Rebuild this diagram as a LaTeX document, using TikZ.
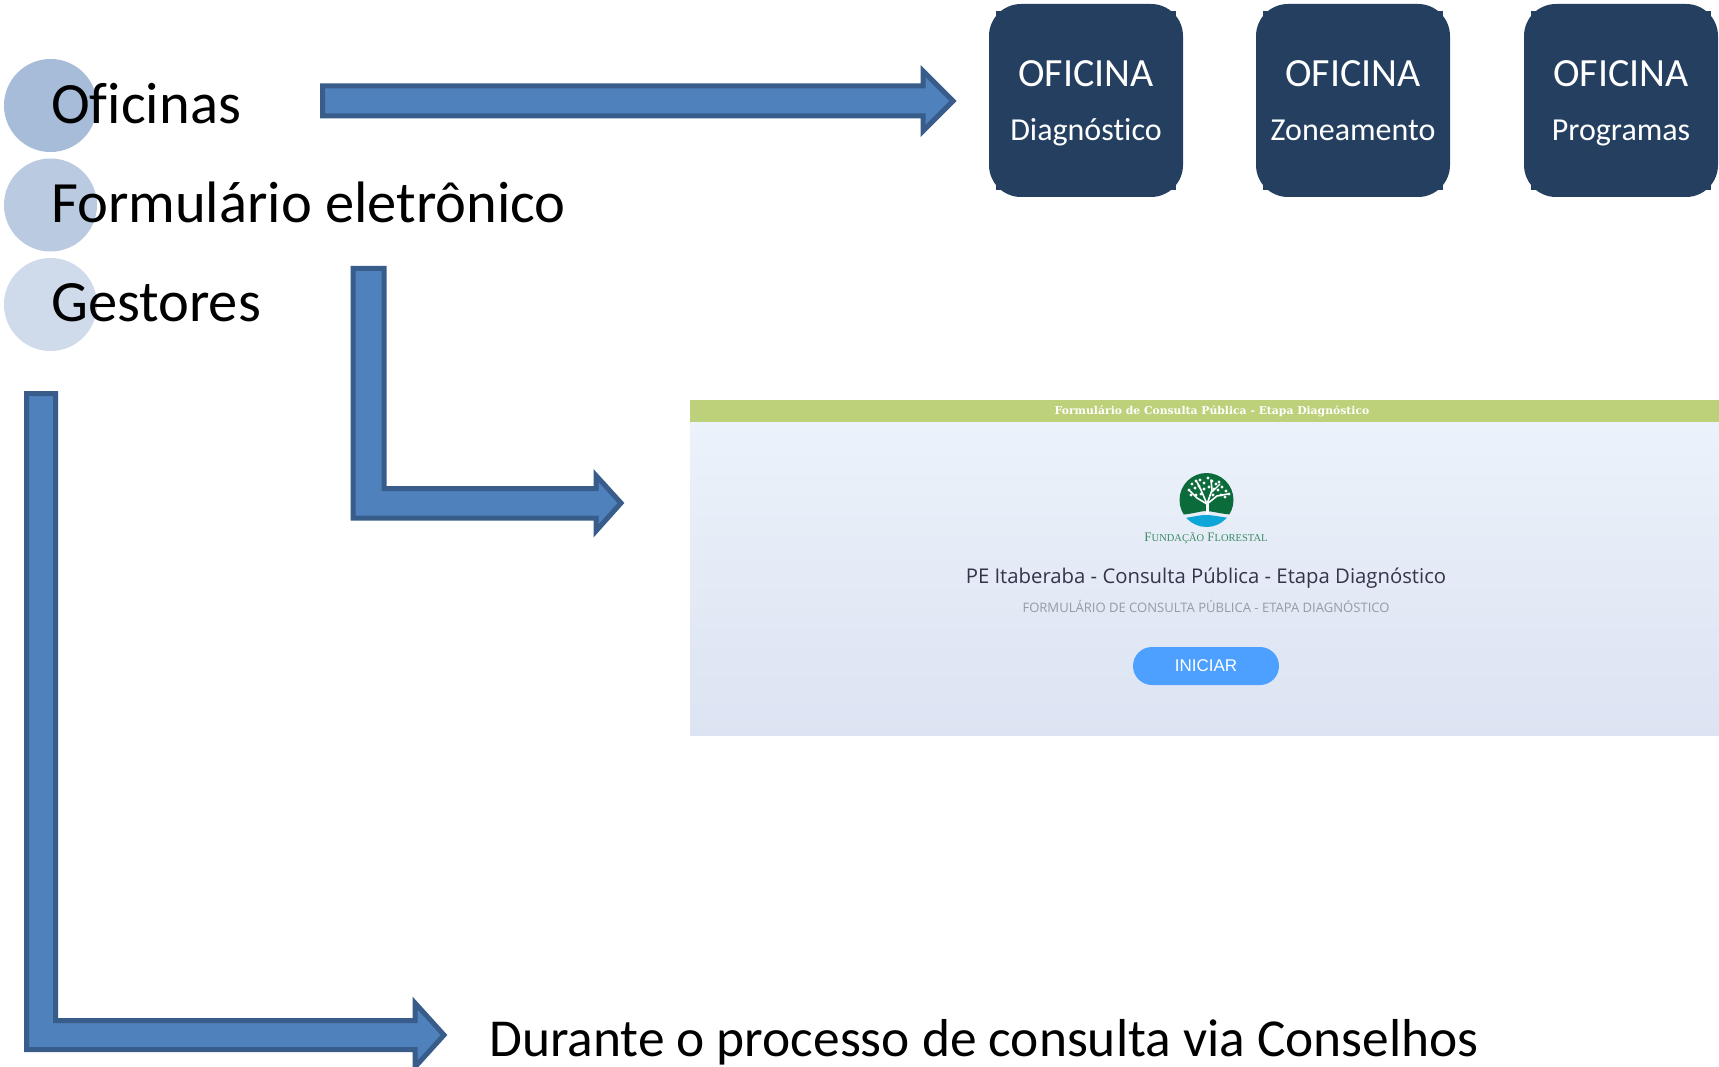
\documentclass[tikz,border=0pt]{standalone}
\usepackage{fontspec}
\setmainfont[Ligatures=NoCommon]{Carlito}
\newfontfamily\barfont{DejaVu Serif}
\newfontfamily\logofont{Liberation Serif}
\newfontfamily\titlefont{Open Sans}
\newfontfamily\btnfont{Liberation Sans}
\usetikzlibrary{shapes.misc}
\definecolor{arrowfill}{HTML}{4F81BD}
\definecolor{arrowline}{HTML}{385D8A}
\definecolor{boxdark}{HTML}{243F60}
\definecolor{circA}{HTML}{A7BCD9}
\definecolor{circB}{HTML}{B9CAE1}
\definecolor{circC}{HTML}{CFDAEB}
\definecolor{barcol}{HTML}{BDD07A}
\definecolor{paneltop}{HTML}{ECF2FA}
\definecolor{panelbot}{HTML}{DCE3F2}
\definecolor{logogreen}{HTML}{0B6B3A}
\definecolor{logoblue}{HTML}{0CA6D8}
\definecolor{logotext}{HTML}{3C8A66}
\definecolor{titlecol}{HTML}{33354A}
\definecolor{subcol}{HTML}{969BA8}
\definecolor{btncol}{HTML}{4DA0FF}
\tikzset{
  x=1pt,y=-1pt,
  blockarrow/.style={fill=arrowfill,draw=arrowline,line width=5pt,miter limit=10},
  bigtext/.style={anchor=base west,inner sep=0pt,font=\fontsize{58.5}{60}\selectfont,text=black},
  lowtext/.style={anchor=base west,inner sep=0pt,font=\fontsize{53.4}{55}\selectfont,text=black},
  bullet/.style={circle,inner sep=0pt,minimum size=93pt},
  boxtext/.style={anchor=base,inner sep=0pt,text=white},
  ofA/.style={boxtext,font=\fontsize{40}{41}\selectfont},
  ofB/.style={boxtext,font=\fontsize{32}{34}\selectfont},
  panelbox/.style={fill=boxdark,rounded corners=32pt},
  leaf/.style={fill=white,draw=none},
  branch/.style={draw=white,line cap=round},
}
\begin{document}
\begin{tikzpicture}
\useasboundingbox (0,0) rectangle (1719,1067);
\fill[white] (0,0) rectangle (1719,1067);
% bullets
\node[bullet,fill=circA] (c1) at (50.5,105.5) {};
\node[bullet,fill=circB] (c2) at (50.5,205) {};
\node[bullet,fill=circC] (c3) at (50.5,304.5) {};
\node[bigtext] (t1) at (51,123.5) {Oficinas};
\node[bigtext] (t2) at (51,222.5) {Formulário eletrônico};
\node[bigtext] (t3) at (51,321.5) {Gestores};
\node[lowtext] (t4) at (489,1056) {Durante o processo de consulta via Conselhos};
% block arrows
\draw[blockarrow] (322.5,86) -- (923,86) -- (923,71) -- (953,101) -- (923,131) -- (923,116) -- (322.5,116) -- cycle;
\draw[blockarrow] (353,268.5) -- (384,268.5) -- (384,488.5) -- (596,488.5) -- (596,475.5) -- (621,503) -- (596,531) -- (596,518) -- (353,518) -- cycle;
\begin{scope}
\clip (0,0) rectangle (1719,1067);
\draw[blockarrow] (26.5,393.5) -- (55.5,393.5) -- (55.5,1020.5) -- (415,1020.5) -- (415,1003) -- (444,1035) -- (415,1067) -- (415,1049.5) -- (26.5,1049.5) -- cycle;
\end{scope}
% workshop boxes
\foreach \nm/\xl/\lab in {a/989/Diagnóstico,b/1256/Zoneamento,c/1524/Programas}{
  \fill[boxdark] (\xl+7,11) rectangle (\xl+187,190);
  \fill[panelbox] (\xl,4) rectangle (\xl+194,197);
  \node[ofA] (of\nm) at (\xl+97,87) {OFICINA};
  \node[ofB] (sub\nm) at (\xl+97,141) {\lab};
}
% form panel
\shade[top color=paneltop,bottom color=panelbot] (690,422) rectangle (1719,735.5);
\fill[barcol] (690,400) rectangle (1719,422);
\node[anchor=center,inner sep=0pt,text=white,font=\barfont\bfseries\fontsize{10.8}{11}\selectfont] (bar) at (1212,411.5) {Formulário de Consulta Pública - Etapa Diagnóstico};
% logo
\begin{scope}
\clip (1206.5,500) circle (27);
\fill[logogreen] (1175,515) .. controls (1190,515) and (1200,511) .. (1206,511) .. controls (1212,511) and (1224,515) .. (1240,515) -- (1240,470) -- (1175,470) -- cycle;
\fill[logoblue] (1175,519) .. controls (1190,518) and (1198,515) .. (1206,515) .. controls (1214,515) and (1224,518) .. (1240,519) -- (1240,530) -- (1175,530) -- cycle;
\end{scope}
\draw[branch,line width=3pt] (1207,513) -- (1207,503);
\draw[branch,line width=1.6pt] (1207,504) -- (1197,498) -- (1190,491);
\draw[branch,line width=1.6pt] (1207,504) -- (1201,490) -- (1197,482);
\draw[branch,line width=1.6pt] (1207,504) -- (1212,490) -- (1211,480);
\draw[branch,line width=1.6pt] (1207,504) -- (1217,496) -- (1228,494);
\draw[branch,line width=1.2pt] (1212,492) -- (1220,484);
\foreach \px/\py in {1189/490,1192/484,1196/481,1200/480,1204/483,1208/478,1212/481,1216/484,1219/482,1222/487,1226/491,1229/494,1191/495,1195/488,1199/486,1204/489,1209/487,1214/489,1218/490,1221/495,1225/497,1196/495,1201/494,1213/495}{
  \fill[leaf] (\px,\py) circle (1.6);
}
\node[anchor=base,inner sep=0pt,text=logotext,font=\logofont\fontsize{13}{13}\selectfont] (logotxt) at (1206,541) {F{\fontsize{10.5}{11}\selectfont UNDAÇÃO} F{\fontsize{10.5}{11}\selectfont LORESTAL}};
% form texts
\node[anchor=base,inner sep=0pt,text=titlecol,font=\titlefont\fontsize{20.3}{22}\selectfont] (title) at (1206,583) {PE Itaberaba - Consulta Pública - Etapa Diagnóstico};
\node[anchor=base,inner sep=0pt,text=subcol,font=\titlefont\fontsize{13.05}{16}\selectfont] (subtitle) at (1206,612) {FORMULÁRIO DE CONSULTA PÚBLICA - ETAPA DIAGNÓSTICO};
\node[rounded rectangle,fill=btncol,minimum width=146pt,minimum height=38pt,inner sep=0pt,text=white,font=\btnfont\fontsize{17}{18}\selectfont] (btn) at (1206,666) {INICIAR};
\end{tikzpicture}
\end{document}
